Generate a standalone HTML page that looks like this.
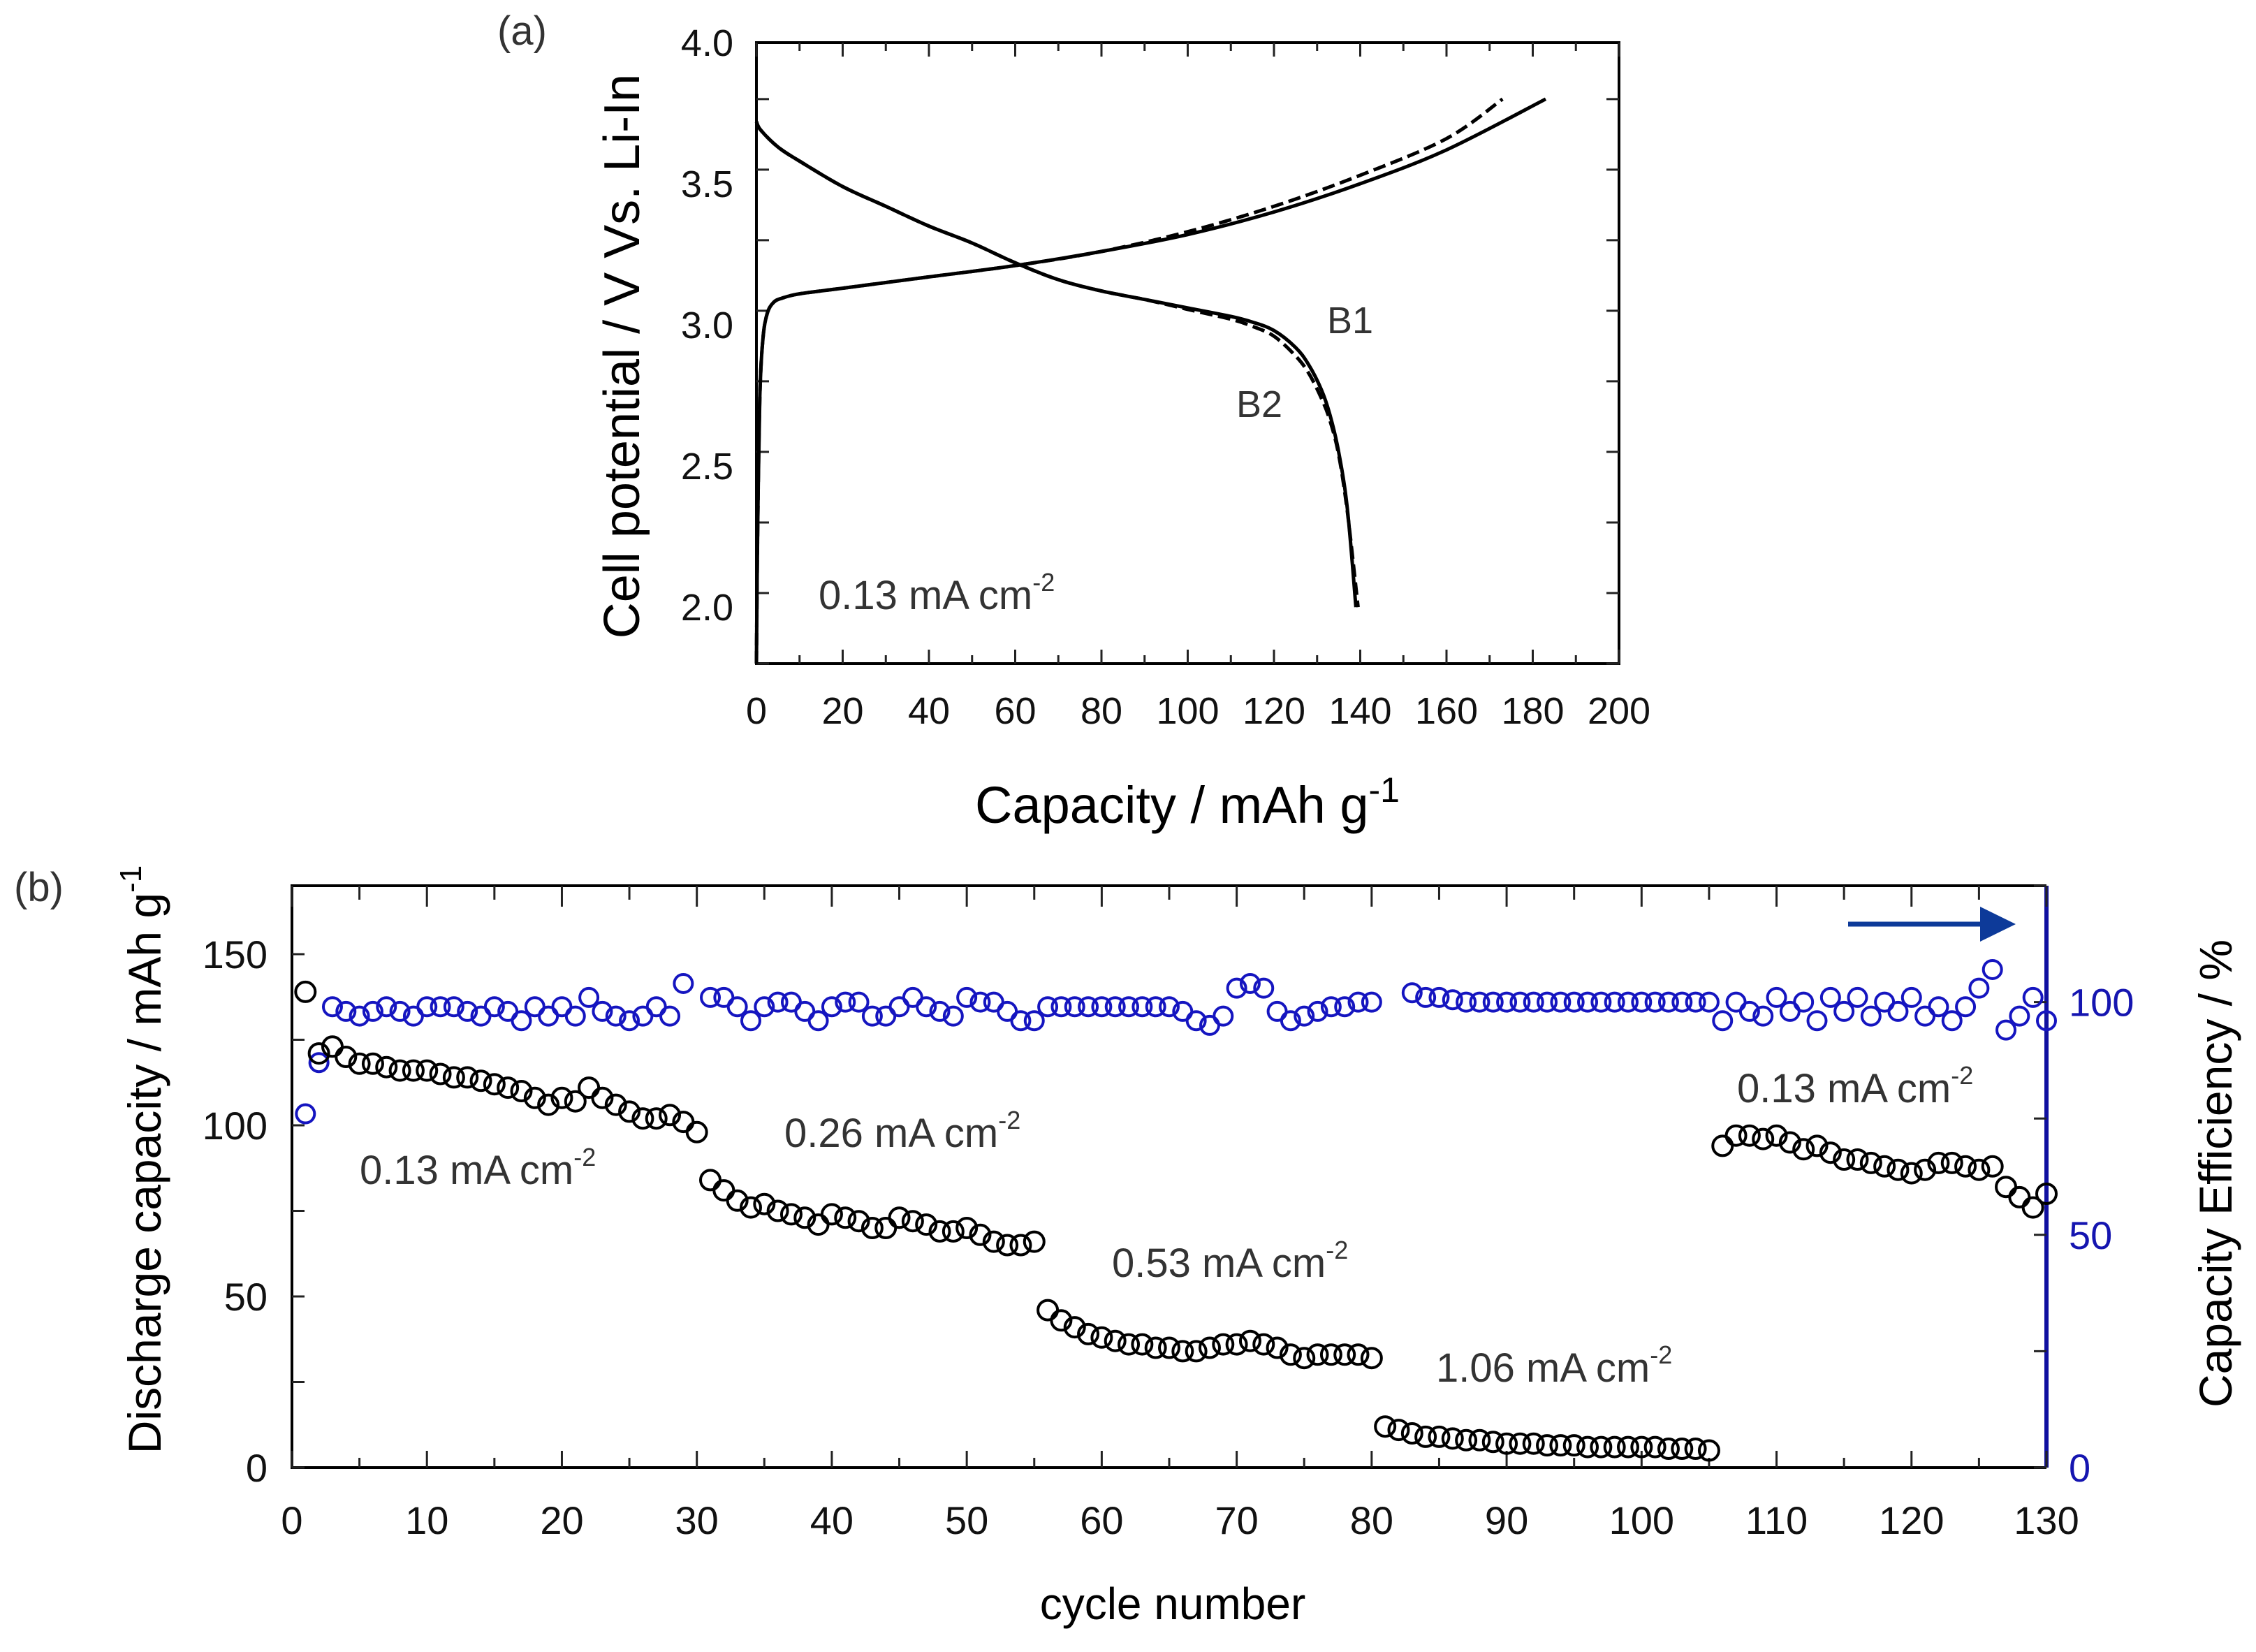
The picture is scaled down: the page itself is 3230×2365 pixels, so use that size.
<!DOCTYPE html>
<html><head><meta charset="utf-8"><style>
body{margin:0;background:#fff}
svg text{font-family:"Liberation Sans",sans-serif}
</style></head><body>
<svg id="fig" width="3230" height="2360" viewBox="0 0 3230 2360" xmlns="http://www.w3.org/2000/svg">
<rect width="3230" height="2360" fill="#fff"/>
<g id="pa"></g>
<g id="pb"></g>
</svg>
<script>
// ---- Panel (a) data ----
const dis1X=[0,1,5,10,20,30,40,50,60,70,80,90,100,110,115,120,125,128,131,133,135,137,139];
const dis1Y=[3.72,3.69,3.63,3.58,3.49,3.42,3.35,3.29,3.22,3.16,3.12,3.09,3.06,3.03,3.01,2.98,2.92,2.86,2.77,2.68,2.55,2.35,2.0];
const dis2X=[0,1,5,10,20,30,40,50,60,70,80,90,100,110,115,120,125,128,131,133,135,137,139.5];
const dis2Y=[3.72,3.69,3.63,3.58,3.49,3.42,3.35,3.29,3.22,3.16,3.12,3.09,3.055,3.02,2.995,2.96,2.89,2.83,2.74,2.66,2.54,2.34,2.0];
const ch1X=[0,0.3,0.8,1.5,2.5,4,6,10,20,40,60,80,100,120,140,160,183];
const ch1Y=[1.8,2.3,2.75,2.95,3.04,3.08,3.095,3.11,3.13,3.17,3.21,3.26,3.32,3.40,3.50,3.62,3.8];
const ch2X=[0,0.3,0.8,1.5,2.5,4,6,10,20,40,60,80,100,120,140,160,173];
const ch2Y=[1.8,2.3,2.75,2.95,3.04,3.08,3.095,3.11,3.13,3.17,3.21,3.26,3.33,3.42,3.53,3.66,3.8];
const aXTicks=[0,20,40,60,80,100,120,140,160,180,200];
const aYTicks=[2.0,2.5,3.0,3.5,4.0];
// ---- Panel (b) data ----
const capCycles=[];for(let i=1;i<=130;i++)capCycles.push(i);
const capacity=[139,121,123,120,118,118,117,116,116,116,115,114,114,113,112,111,110,108,106,108,107,111,108,106,104,102,102,103,101,98,
84,81,78,76,77,75,74,73,71,74,73,72,70,70,73,72,71,69,69,70,68,66,65,65,66,
46,43,41,39,38,37,36,36,35,35,34,34,35,36,36,37,36,35,33,32,33,33,33,33,32,
12,11,10,9,9,8.5,8,8,7.5,7,7,7,6.5,6.5,6.5,6,6,6,6,6,6,5.5,5.5,5.5,5,
94,97,97,96,97,95,93,94,92,90,90,89,88,87,86,87,89,89,88,87,88,82,79,76,80];
const efficiency=[76,87,99,98,97,98,99,98,97,99,99,99,98,97,99,98,96,99,97,99,97,101,98,97,96,97,99,97,104,null,
101,101,99,96,99,100,100,98,96,99,100,100,97,97,99,101,99,98,97,101,100,100,98,96,96,
99,99,99,99,99,99,99,99,99,99,98,96,95,97,103,104,103,98,96,97,98,99,99,100,100,
null,null,102,101,101,100.5,100,100,100,100,100,100,100,100,100,100,100,100,100,100,100,100,100,100,100,
96,100,98,97,101,98,100,96,101,98,101,97,100,98,101,97,99,96,99,103,107,94,97,101,96];
const bXTicks=[0,10,20,30,40,50,60,70,80,90,100,110,120,130];
const bYTicks=[0,50,100,150];
const bY2Ticks=[0,50,100];

const NS="http://www.w3.org/2000/svg";
function mk(parent,tag,attrs,txt){const e=document.createElementNS(NS,tag);for(const k in attrs)e.setAttribute(k,attrs[k]);if(txt!==undefined)e.textContent=txt;parent.appendChild(e);return e;}

// ===== Panel a =====
const pa=document.getElementById('pa');
const aL=1083,aR=2318,aT=61,aB=950;
const ax=v=>aL+(v-0)/200*(aR-aL);
const ay=v=>aB-(v-1.8)/(4.0-1.8)*(aB-aT);
let fr=mk(pa,'rect',{x:aL,y:aT,width:aR-aL,height:aB-aT,fill:'none',stroke:'#000','stroke-width':4});


for(let v=0;v<=200;v+=10){
  const L=(v%20===0)?20:12;
  let t=mk(pa,'line',{x1:ax(v),x2:ax(v),y1:aB,y2:aB-L,stroke:'#222','stroke-width':3});
  
  t=mk(pa,'line',{x1:ax(v),x2:ax(v),y1:aT,y2:aT+L,stroke:'#222','stroke-width':3});
  
}
for(let v=1.8;v<=4.0001;v+=0.25){
  let t=mk(pa,'line',{x1:aL,x2:aL+18,y1:ay(v),y2:ay(v),stroke:'#222','stroke-width':3});
  
  t=mk(pa,'line',{x1:aR,x2:aR-18,y1:ay(v),y2:ay(v),stroke:'#222','stroke-width':3});
  
}
aXTicks.forEach(v=>{const t=mk(pa,'text',{x:ax(v),y:1036,'font-size':54,'text-anchor':'middle',fill:'#111'},String(v));
  });
aYTicks.forEach(v=>{const t=mk(pa,'text',{x:1050,y:ay(v)+19,'font-size':54,'text-anchor':'end',fill:'#111'},v.toFixed(1));
  });
function curve(xs,ys,dash,name){
  const P=xs.map((x,i)=>[ax(x),ay(ys[i])]);
  let d='M'+P[0][0].toFixed(1)+','+P[0][1].toFixed(1);
  for(let i=0;i<P.length-1;i++){
    const p0=P[Math.max(0,i-1)],p1=P[i],p2=P[i+1],p3=P[Math.min(P.length-1,i+2)];
    const c1=[p1[0]+(p2[0]-p0[0])/6,p1[1]+(p2[1]-p0[1])/6];
    const c2=[p2[0]-(p3[0]-p1[0])/6,p2[1]-(p3[1]-p1[1])/6];
    d+=' C'+c1[0].toFixed(1)+','+c1[1].toFixed(1)+' '+c2[0].toFixed(1)+','+c2[1].toFixed(1)+' '+p2[0].toFixed(1)+','+p2[1].toFixed(1);
  }
  const p=mk(pa,'path',{d:d,fill:'none',stroke:'#000','stroke-width':5,'stroke-dasharray':dash?'18,8':'none','stroke-linejoin':'round'});
  
}
curve(dis1X,dis1Y,false,'b1-discharge-curve');
curve(dis2X,dis2Y,true,'b2-discharge-curve');
curve(ch1X,ch1Y,false,'b1-charge-curve');
curve(ch2X,ch2Y,true,'b2-charge-curve');
</script>
<script>
(function(){
const pa=document.getElementById('pa');
let t;
t=mk(pa,'text',{x:1900,y:477,'font-size':54,fill:'#333'},'B1');
t=mk(pa,'text',{x:1770,y:597,'font-size':54,fill:'#333'},'B2');
t=mk(pa,'text',{x:1172,y:872,'font-size':58,fill:'#333'});
t.innerHTML='0.13 mA cm<tspan dy="-26" font-size="36">-2</tspan>';
t=mk(pa,'text',{x:712,y:64,'font-size':58,fill:'#333'},'(a)');
t=mk(pa,'text',{x:1700,y:1178,'font-size':74,'text-anchor':'middle',fill:'#000'});
t.innerHTML='Capacity / mAh g<tspan dy="-30" font-size="50">-1</tspan>';
t=mk(pa,'text',{x:0,y:0,'font-size':72,'text-anchor':'middle',fill:'#000',transform:'translate(915,510) rotate(-90)'},'Cell potential / V Vs. Li-In');


// ===== Panel b =====
const pb=document.getElementById('pb');
const L=418,R=2930,T=1268,B=2101;
const bx=v=>L+v/130*(R-L);
const by=v=>B-v/170*(B-T);
const by2=v=>B-v/125*(B-T);
t=mk(pb,'path',{d:`M${R},${T} L${L},${T} L${L},${B} L${R},${B}`,fill:'none',stroke:'#000','stroke-width':4});

t=mk(pb,'line',{x1:R,x2:R,y1:T,y2:B,stroke:'#1010a0','stroke-width':6});

for(let v=0;v<=130;v+=5){
  const len=(v%10===0)?24:14;
  t=mk(pb,'line',{x1:bx(v),x2:bx(v),y1:B,y2:B-len,stroke:'#222','stroke-width':3});
  
  t=mk(pb,'line',{x1:bx(v),x2:bx(v),y1:T,y2:T+len+6,stroke:'#222','stroke-width':3});
  
}
for(let v=0;v<=150;v+=25){
  t=mk(pb,'line',{x1:L,x2:L+18,y1:by(v),y2:by(v),stroke:'#222','stroke-width':3});
  
}
for(let v=0;v<=125;v+=25){
  t=mk(pb,'line',{x1:R,x2:R-18,y1:by2(v),y2:by2(v),stroke:'#222','stroke-width':3});
  
}
bXTicks.forEach(v=>{t=mk(pb,'text',{x:bx(v),y:2196,'font-size':56,'text-anchor':'middle',fill:'#111'},String(v));
  });
bYTicks.forEach(v=>{t=mk(pb,'text',{x:383,y:by(v)+20,'font-size':56,'text-anchor':'end',fill:'#111'},String(v));
  });
bY2Ticks.forEach(v=>{t=mk(pb,'text',{x:2962,y:by2(v)+20,'font-size':56,'text-anchor':'start',fill:'#1515b0'},String(v));
  });
capCycles.forEach((c,i)=>{
  const v=efficiency[i]; if(v==null)return;
  const e=mk(pb,'circle',{cx:bx(c),cy:by2(v),r:13,fill:'none',stroke:'#1515c0','stroke-width':4});
  
});
capCycles.forEach((c,i)=>{
  const v=capacity[i]; if(v==null)return;
  const e=mk(pb,'circle',{cx:bx(c),cy:by(v),r:14,fill:'none',stroke:'#000','stroke-width':4});
  
});
function ann(x,y,name){const a=mk(pb,'text',{x:x,y:y,'font-size':58,fill:'#333'});
  
  a.innerHTML='0.13 mA cm<tspan dy="-26" font-size="36">-2</tspan>';return a;}
ann(515,1695,'rate-label-0-13-a');
ann(1123,1642,'rate-label-0-26').innerHTML='0.26 mA cm<tspan dy="-26" font-size="36">-2</tspan>';
ann(1592,1828,'rate-label-0-53').innerHTML='0.53 mA cm<tspan dy="-26" font-size="36">-2</tspan>';
ann(2056,1978,'rate-label-1-06').innerHTML='1.06 mA cm<tspan dy="-26" font-size="36">-2</tspan>';
ann(2487,1578,'rate-label-0-13-b');
t=mk(pb,'line',{x1:2646,x2:2840,y1:1323,y2:1323,stroke:'#0d3a99','stroke-width':7});

t=mk(pb,'polygon',{points:'2835,1298 2886,1323 2835,1348',fill:'#0d3a99'});

t=mk(pb,'text',{x:20,y:1290,'font-size':58,fill:'#333'},'(b)');
t=mk(pb,'text',{x:1679,y:2318,'font-size':64,'text-anchor':'middle',fill:'#000'},'cycle number');

t=mk(pb,'text',{x:0,y:0,'font-size':66,'text-anchor':'middle',fill:'#000',transform:'translate(230,1660) rotate(-90)'});

t.innerHTML='Discharge capacity / mAh g<tspan dy="-28" font-size="44">-1</tspan>';
t=mk(pb,'text',{x:0,y:0,'font-size':66,'text-anchor':'middle',fill:'#000',transform:'translate(3195,1680) rotate(-90)'},'Capacity Efficiency / %');

})();
</script>
</body></html>
